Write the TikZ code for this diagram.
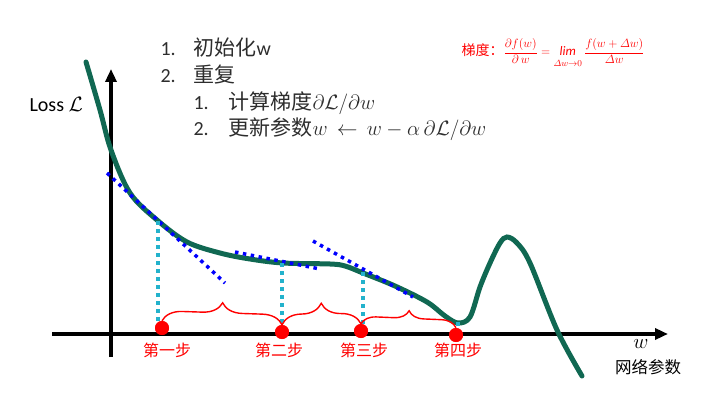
\documentclass[tikz,border=0pt]{standalone}
\usepackage{fontspec}
\setmainfont{Carlito}
\newfontfamily\cjk{Noto Sans CJK SC}
\usetikzlibrary{arrows.meta,decorations.pathreplacing}
\definecolor{curvegreen}{RGB}{16,104,82}
\definecolor{guide}{RGB}{35,178,204}
\definecolor{txt}{RGB}{45,45,45}
\begin{document}
\begin{tikzpicture}[x=1pt,y=1pt,
 axis/.style={line width=3.5pt,-{Triangle[length=13pt,width=11pt]}},
 losscurve/.style={curvegreen,line width=5pt,line cap=round},
 tangent/.style={blue,line width=3.5pt,dash pattern=on 3.5pt off 4.5pt},
 guideline/.style={guide,line width=3.5pt,dash pattern=on 3.5pt off 4.5pt},
 dot/.style={circle,fill=red,minimum size=14pt,inner sep=0pt},
 stepbrace/.style={red,line width=1.4pt,decorate,decoration={brace,amplitude=#1}},
 steplabel/.style={red,font=\cjk\fontsize{16}{18}\selectfont},
 listtext/.style={anchor=base west,txt,font=\fontsize{20}{24}\selectfont},
]
\useasboundingbox (0,0) rectangle (706,402);

% axes
\coordinate (xs) at (52,68);
\coordinate (xe) at (668,68);
\coordinate (ys) at (111,45);
\coordinate (ye) at (111,333);
\draw[axis] (xs) -- (xe);
\draw[axis] (ys) -- (ye);

% loss curve
\draw[losscurve] plot[smooth,tension=0.55] coordinates {
 (86,340) (100,292) (111,252) (130,209) (157,182) (187,160) (220,149)
 (250,143) (283,139) (330,138) (345,136) (363,129) (395,116)
 (427,100) (445,86) (458,79) (470,85) (480,115) (490,139) (500,159)
 (507,165) (517,159) (530,139) (557,72) (582,26)};

% tangents
\coordinate (ta1) at (107,229); \coordinate (tb1) at (225,119);
\coordinate (ta2) at (235,150); \coordinate (tb2) at (320,133);
\coordinate (ta3) at (313,161); \coordinate (tb3) at (413,105);
\draw[tangent] (ta1) -- (tb1);
\draw[tangent] (ta2) -- (tb2);
\draw[tangent] (ta3) -- (tb3);

% points on curve
\coordinate (c1) at (158,181);
\coordinate (c2) at (282,139);
\coordinate (c3) at (363,130);
\coordinate (c4) at (458,80);

% step dots
\node[dot] (d1) at (162,74) {};
\node[dot] (d2) at (282,70) {};
\node[dot] (d3) at (361,71) {};
\node[dot] (d4) at (456,67) {};

\draw[guideline] (c1) -- (c1 |- d1.center);
\draw[guideline] (c2) -- (c2 |- d2.center);
\draw[guideline] (c3) -- (c3 |- d3.center);
\draw[guideline] (c4) -- (c4 |- d4.center);

\fill[red] (d1) circle (7pt);
\fill[red] (d2) circle (7pt);
\fill[red] (d3) circle (7pt);
\fill[red] (d4) circle (7pt);

% braces
\draw[stepbrace=20pt] (d1.north) -- (d2.north);
\draw[stepbrace=21pt] (d2.north) -- (d3.north);
\draw[stepbrace=15pt] (d3.north) -- (d4.north);

% step labels
\node[steplabel] (s1) at (167,52) {第一步};
\node[steplabel] (s2) at (279,52) {第二步};
\node[steplabel] (s3) at (364,52) {第三步};
\node[steplabel] (s4) at (458,52) {第四步};

% axis labels
\node[font=\fontsize{20}{24}\selectfont] (wlab) at (641,58) {$w$};
\node[font=\cjk\fontsize{16.5}{18}\selectfont] (wname) at (648,35) {网络参数};
\node[anchor=west,font=\fontsize{20}{24}\selectfont] (losslab) at (26,298) {Loss $\mathcal{L}$};

% algorithm list
\node[listtext] (n1) at (157,346) {1.};
\node[listtext] (t1) at (190,346) {{\cjk\fontsize{21}{24}\selectfont 初始化}w};
\node[listtext] (n2) at (157,319) {2.};
\node[listtext] (t2) at (190,319) {\cjk\fontsize{21}{24}\selectfont 重复};
\node[listtext] (n3) at (190,292) {1.};
\node[listtext] (t3) at (225,292) {{\cjk\fontsize{21}{24}\selectfont 计算梯度}$\partial\mathcal{L}/\partial w$};
\node[listtext] (n4) at (190,266) {2.};
\node[listtext] (t4) at (225,266) {{\cjk\fontsize{21}{24}\selectfont 更新参数}$w\mathrel{\,\leftarrow\,} w-\alpha\,\partial\mathcal{L}/\partial w$};

% gradient definition
\node[red,font=\fontsize{13}{15}\selectfont] (grad) at (553,349)
 {{\cjk\fontsize{14}{16}\selectfont 梯度：}$\displaystyle\frac{\partial f(w)}{\partial\, w} = \mathop{\mathit{lim}}\limits_{\rule{0pt}{9pt}\mathnormal{\Delta} w\to 0}\frac{f(w+\mathnormal{\Delta} w)}{\mathnormal{\Delta} w}$};
\end{tikzpicture}
\end{document}
